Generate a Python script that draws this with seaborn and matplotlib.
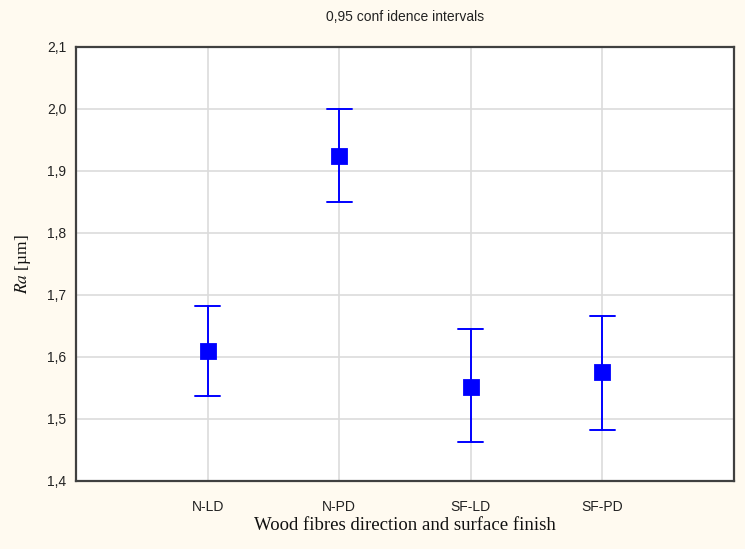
import numpy as np
import pandas as pd
import matplotlib
matplotlib.use("Agg")
import matplotlib.pyplot as plt
import matplotlib.ticker as mticker
import seaborn as sns

# ── Data ──────────────────────────────────────────────────────────────────
GROUPS = ["N-LD", "N-PD", "SF-LD", "SF-PD"]
RA_MEAN = [1.610, 1.925, 1.552, 1.575]
RA_LOW = [1.537, 1.850, 1.463, 1.482]
RA_HIGH = [1.682, 2.000, 1.645, 1.666]
Y_TICKS = [1.4, 1.5, 1.6, 1.7, 1.8, 1.9, 2.0, 2.1]

BG = "#fffaf0"
BLUE = "#0000ff"
FRAME = "#404040"
GRID = "#dcdcdc"

sns.set_theme(style="white")
plt.rcParams.update({
    "font.family": ["Liberation Sans", "DejaVu Sans"],
    "mathtext.fontset": "stix",
    "figure.facecolor": BG,
    "axes.facecolor": "white",
})

# long table: low / mean / high per group; median picks the mean,
# the min/max pair gives the interval
df = pd.DataFrame({
    "group": np.repeat(GROUPS, 3),
    "ra": np.column_stack([RA_LOW, RA_MEAN, RA_HIGH]).ravel(),
})

fig = plt.figure(figsize=(7.45, 5.49), dpi=100)
ax = fig.add_axes([76 / 745, 1 - 481 / 549, 658 / 745, 434 / 549])

sns.pointplot(
    data=df, x="group", y="ra", order=GROUPS, ax=ax,
    estimator="median", errorbar=lambda v: (v.min(), v.max()),
    color=BLUE, markers="s", linestyle="none", markersize=9.5,
    capsize=0.19, err_kws={"linewidth": 1.4},
)

ax.set_xlim(-1, 4)
ax.set_ylim(1.4, 2.1)
ax.set_yticks(Y_TICKS)
ax.yaxis.set_major_formatter(
    mticker.FuncFormatter(lambda v, _: f"{v:.1f}".replace(".", ",")))

ax.grid(True, color=GRID, linewidth=1.2)
ax.set_axisbelow(True)
for sp in ax.spines.values():
    sp.set_color(FRAME)
    sp.set_linewidth(1.6)

ax.tick_params(axis="both", direction="in", length=4, width=1,
               color=FRAME, labelcolor="#222222", labelsize=10)
ax.tick_params(axis="x", pad=14)
ax.tick_params(axis="y", pad=7)

ax.set_xlabel("Wood fibres direction and surface finish",
              family="Liberation Serif", fontsize=13.5, color="#111111",
              labelpad=2)
ax.set_ylabel(r"$Ra$ [µm]", family="Liberation Serif", fontsize=12.5,
              color="#111111")
ax.yaxis.set_label_coords(-0.066, 0.5)

fig.text(405 / 745, 1 - 17 / 549, "0,95 conf idence intervals",
         ha="center", va="center", fontsize=10, color="#222222")

fig.savefig("out.png", dpi=100, facecolor=fig.get_facecolor())
